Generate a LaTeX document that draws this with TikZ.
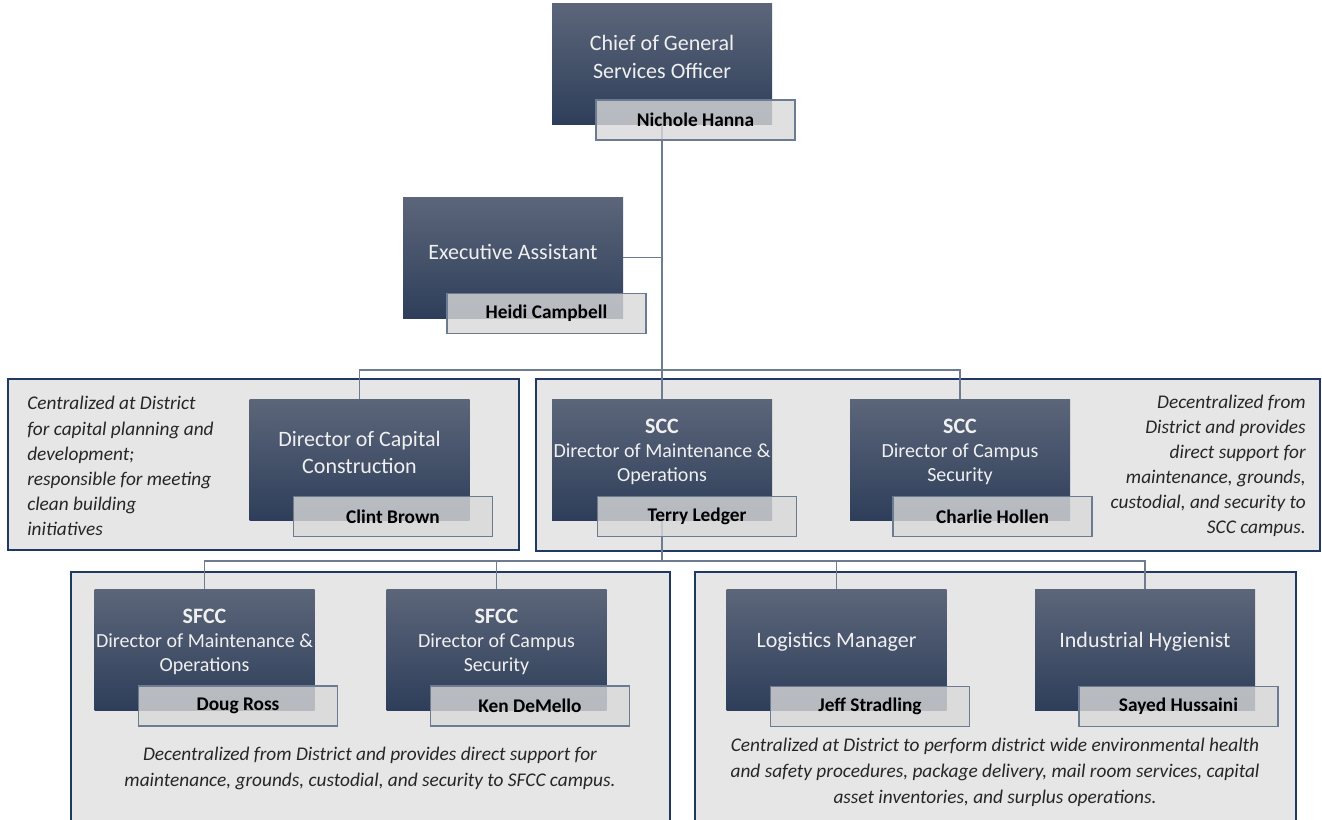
\documentclass[tikz,border=0pt]{standalone}
\usepackage{fontspec}
\setmainfont{Carlito}
\usetikzlibrary{calc}
\definecolor{dtop}{RGB}{92,102,122}
\definecolor{dbot}{RGB}{46,62,90}
\definecolor{grpfill}{RGB}{230,230,230}
\definecolor{grpborder}{RGB}{31,56,100}
\definecolor{conncol}{RGB}{110,123,145}
\definecolor{nameborder}{RGB}{108,122,146}
\definecolor{namefill}{RGB}{217,217,217}
\definecolor{titlecol}{RGB}{240,240,240}
\pgfdeclarelayer{paper}
\pgfdeclarelayer{groups}
\pgfdeclarelayer{lines}
\pgfsetlayers{paper,groups,lines,main}
\begin{document}
\begin{tikzpicture}[x=0.75pt,y=-0.75pt,
  darkbox/.style={draw=none, inner sep=0pt, minimum width=165pt, minimum height=90.75pt, top color=dtop, bottom color=dbot},
  namebox/.style={draw=nameborder, line width=0.8pt, fill=namefill, fill opacity=0.8, text opacity=1, inner sep=0pt, minimum width=149.25pt, minimum height=30pt, font=\fontsize{14.5}{17}\selectfont\bfseries},
  ttl/.style={inner sep=0pt, align=center, text=titlecol, font=\fontsize{16.5}{20.5}\selectfont},
  dirttl/.style={inner sep=0pt, align=center, text=titlecol, font=\fontsize{15}{18}\selectfont},
  grp/.style={draw=grpborder, line width=1.5pt, fill=grpfill},
  note/.style={inner sep=0pt, font=\fontsize{14.5}{18.8}\selectfont\itshape, text=black!85},
  conn/.style={draw=conncol, line width=1.2pt}
]
\useasboundingbox (0,0) rectangle (1322,819);
\begin{pgfonlayer}{paper}
\fill[white] (0,0) rectangle (1322,819);
\end{pgfonlayer}

% group backgrounds
\begin{pgfonlayer}{groups}
\draw[grp] (8,379) rectangle (519,550);
\draw[grp] (536,379) rectangle (1320,551);
\draw[grp] (71,572) rectangle (670,840);
\draw[grp] (695,572) rectangle (1296,840);
\end{pgfonlayer}

% dark boxes
\node[darkbox] (chief) at (662,64) {};
\node[darkbox] (exec) at (513,257.5) {};
\node[darkbox] (cap) at (359.5,459.5) {};
\node[darkbox] (scmo) at (662,459.5) {};
\node[darkbox] (sccs) at (960,459.5) {};
\node[darkbox] (sfmo) at (204.5,649.5) {};
\node[darkbox] (sfcs) at (496.5,649.5) {};
\node[darkbox] (logm) at (836.5,650) {};
\node[darkbox] (indh) at (1145,650) {};

% titles
\node[ttl] (tchief) at ($(chief)+(0,-7)$) {Chief of General\\Services Officer};
\node[ttl] (texec) at ($(exec)+(0,-6)$) {Executive Assistant};
\node[ttl] (tcap) at ($(cap)+(0,-7)$) {Director of Capital\\Construction};
\node[dirttl] (tscmo) at ($(scmo)+(0,-8)$) {\bfseries\fontsize{16.5}{18}\selectfont SCC\\Director of Maintenance \&\\Operations};
\node[dirttl] (tsccs) at ($(sccs)+(0,-8)$) {\bfseries\fontsize{16.5}{18}\selectfont SCC\\Director of Campus\\Security};
\node[dirttl] (tsfmo) at ($(sfmo)+(0,-8)$) {\bfseries\fontsize{16.5}{18}\selectfont SFCC\\Director of Maintenance \&\\Operations};
\node[dirttl] (tsfcs) at ($(sfcs)+(0,-8)$) {\bfseries\fontsize{16.5}{18}\selectfont SFCC\\Director of Campus\\Security};
\node[ttl] (tlogm) at ($(logm)+(0,-8)$) {Logistics Manager};
\node[ttl] (tindh) at ($(indh)+(0,-8)$) {Industrial Hygienist};

% name boxes
\node[namebox] (nchief) at ($(chief)+(33.5,56)$) {Nichole Hanna};
\node[namebox] (nexec) at ($(exec)+(33.5,56)$) {Heidi Campbell};
\node[namebox] (ncap) at ($(cap)+(33.5,57)$) {Clint Brown};
\node[namebox] (nscmo) at ($(scmo)+(35,57)$) {Terry Ledger};
\node[namebox] (nsccs) at ($(sccs)+(32.5,57)$) {Charlie Hollen};
\node[namebox] (nsfmo) at ($(sfmo)+(33.5,56.5)$) {Doug Ross};
\node[namebox] (nsfcs) at ($(sfcs)+(33.5,56.5)$) {Ken DeMello};
\node[namebox] (nlogm) at ($(logm)+(33.5,56.5)$) {Jeff Stradling};
\node[namebox] (nindh) at ($(indh)+(33.5,56.5)$) {Sayed Hussaini};

% connectors
\coordinate (j3) at (662,370);
\coordinate (j4) at (662,561);
\begin{pgfonlayer}{lines}
\draw[conn] (chief.center) -- (scmo.center);
\draw[conn] (exec.center) -- (exec.center -| chief.center);
\draw[conn] (cap.center) |- (j3) -| (sccs.center);
\draw[conn] (scmo.center) -- (j4);
\draw[conn] (sfmo.center) |- (j4) -| (indh.center);
\draw[conn] (sfcs.center) -- (sfcs.center |- j4);
\draw[conn] (logm.center) -- (logm.center |- j4);
\end{pgfonlayer}

% notes
\node[note, anchor=west, align=left] (ncapnote) at (27,466) {Centralized at District\\for capital planning and\\development;\\responsible for meeting\\clean building\\initiatives};
\node[note, anchor=east, align=right] (nsccnote) at (1306,466) {Decentralized from\\District and provides\\direct support for\\maintenance, grounds,\\custodial, and security to\\SCC campus.};
\node[note, align=center, font=\fontsize{14.5}{19.5}\selectfont\itshape] (nsfccnote) at (370,768) {Decentralized from District and provides direct support for\\maintenance, grounds, custodial, and security to SFCC campus.};
\node[note, align=center, font=\fontsize{14.5}{19.5}\selectfont\itshape] (nlognote) at (995,772) {Centralized at District to perform district wide environmental health\\and safety procedures, package delivery, mail room services, capital\\asset inventories, and surplus operations.};
\end{tikzpicture}
\end{document}
